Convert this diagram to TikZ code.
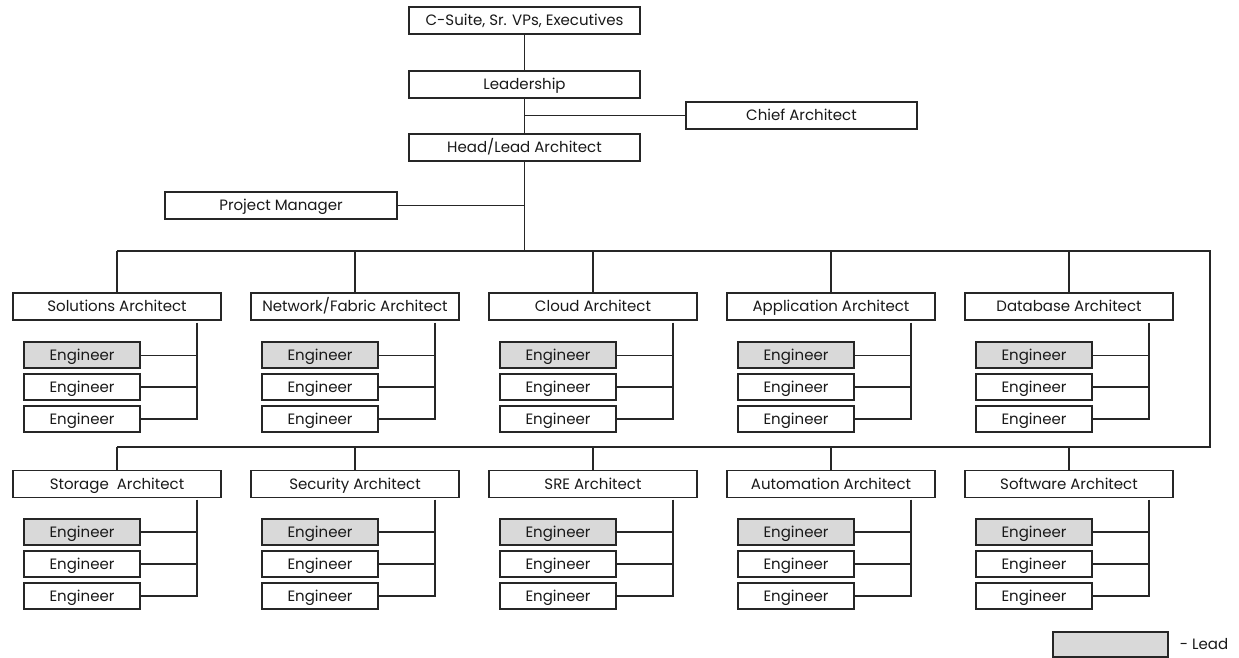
\documentclass[tikz,border=0pt]{standalone}
\usepackage{fontspec}
\setmainfont{Poppins}
\begin{document}
\begin{tikzpicture}[x=1pt,y=-1pt,
  box/.style={draw=black!85, line width=1.2pt, fill=white, minimum height=27pt,
    inner sep=0pt, font=\fontsize{15}{17}\selectfont, text=black!90,
    text height=13pt, text depth=2.5pt},
  wide/.style={box, minimum width=231pt},
  arch/.style={box, minimum width=208pt},
  eng/.style={box, minimum width=116pt, minimum height=26pt},
  lead/.style={eng, fill=gray!30},
  link/.style={draw=black!85, line width=1.1pt}]
\useasboundingbox (0,0) rectangle (1239,658);

% management chain
\node[wide] (csuite) at (524.5,20.5) {C-Suite, Sr. VPs, Executives};
\node[wide] (leadership) at (524.5,84.5) {Leadership};
\node[wide] (chief) at (801.5,115.5) {Chief Architect};
\node[wide] (head) at (524.5,147.5) {Head/Lead Architect};
\node[box, minimum width=232pt] (pm) at (281,205.5) {Project Manager};

\draw[link] (csuite.south) -- (leadership.north);
\draw[link] (leadership.south) -- (head.north);
\coordinate (chiefj) at (524.5,115.5);
\draw[link] (chiefj) -- (chief.west);
\coordinate (pmj) at (524.5,205.5);
\draw[link] (pmj) -- (pm.east);

% distribution bus
\coordinate (busTL) at (117,251);
\coordinate (busTR) at (1210,251);
\coordinate (busBR) at (1210,447);
\coordinate (busBL) at (117,447);
\draw[link] (head.south) -- (head.south |- busTR);
\draw[link] (busTL) -- (busTR) -- (busBR) -- (busBL);

% first row of architects
\foreach \t [count=\k] in {Solutions Architect, Network/Fabric Architect,
    Cloud Architect, Application Architect, Database Architect} {
  \pgfmathsetmacro\cx{117+238*(\k-1)}
  \node[arch] (a\k) at (\cx,306.5) {\t};
  \draw[link] (a\k.north) -- (a\k.north |- busTR);
  \node[lead] (a\k e1) at (\cx-35,355) {Engineer};
  \node[eng]  (a\k e2) at (\cx-35,387) {Engineer};
  \node[eng]  (a\k e3) at (\cx-35,419) {Engineer};
  \coordinate (a\k v) at (\cx+80,322.5);
  \draw[link] (a\k v) |- (a\k e3.east);
  \draw[link, line width=0.8pt] (a\k e1.east) -- (a\k e1.east -| a\k v);
  \draw[link] (a\k e2.east) -- (a\k e2.east -| a\k v);
}

% second row of architects
\foreach \t [count=\k] in {Storage\ \ Architect, Security Architect,
    SRE Architect, Automation Architect, Software Architect} {
  \pgfmathsetmacro\cx{117+238*(\k-1)}
  \node[arch] (b\k) at (\cx,484) {\t};
  \draw[link] (b\k.north) -- (b\k.north |- busBR);
  \node[lead] (b\k e1) at (\cx-35,532) {Engineer};
  \node[eng]  (b\k e2) at (\cx-35,564) {Engineer};
  \node[eng]  (b\k e3) at (\cx-35,596) {Engineer};
  \coordinate (b\k v) at (\cx+80,499.5);
  \draw[link] (b\k v) |- (b\k e3.east);
  \draw[link] (b\k e1.east) -- (b\k e1.east -| b\k v);
  \draw[link] (b\k e2.east) -- (b\k e2.east -| b\k v);
}

% legend
\node[lead, minimum width=115pt, minimum height=25pt] (legend) at (1110.5,644.5) {};
\node[anchor=west, inner sep=0pt, font=\fontsize{15}{17}\selectfont, text=black!90,
  text height=13pt, text depth=2.5pt]
  (legendtext) at ([xshift=11pt]legend.east) {- Lead};
\end{tikzpicture}
\end{document}
